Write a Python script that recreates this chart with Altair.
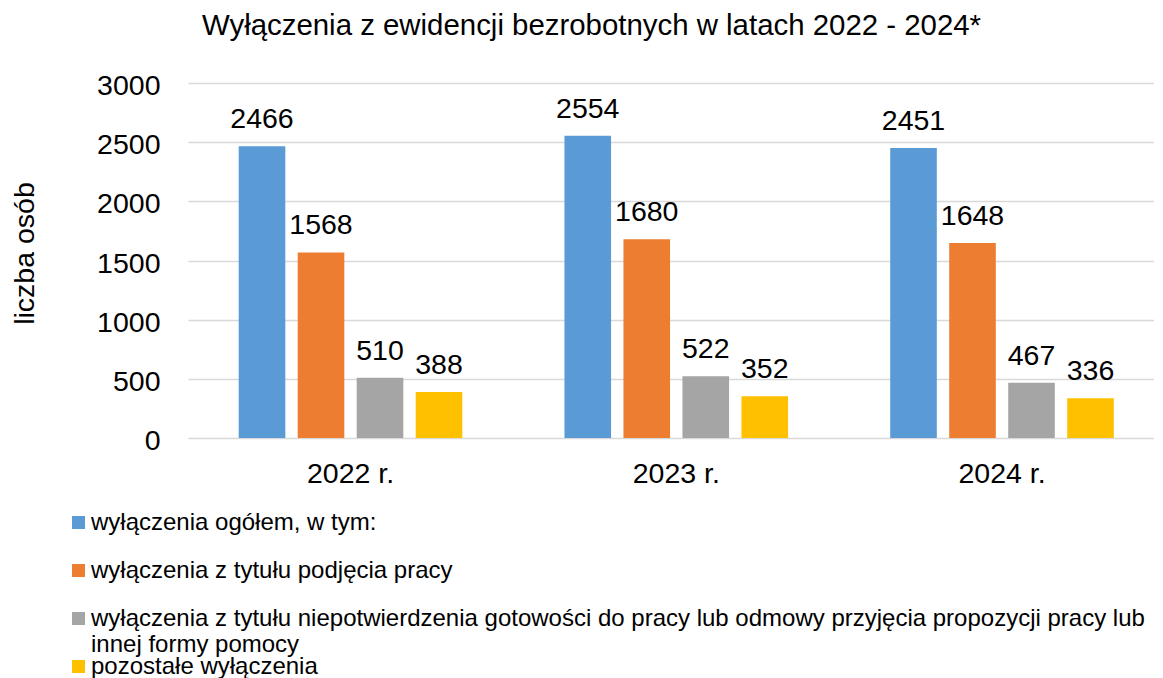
import altair as alt
import pandas as pd

years = ["2022 r.", "2023 r.", "2024 r."]
series = [
    "wyłączenia ogółem, w tym:",
    "wyłączenia z tytułu podjęcia pracy",
    "wyłączenia z tytułu niepotwierdzenia gotowości do pracy lub odmowy przyjęcia propozycji pracy lub innej formy pomocy",
    "pozostałe wyłączenia",
]
legend_labels = [
    "wyłączenia ogółem, w tym:",
    "wyłączenia z tytułu podjęcia pracy",
    "wyłączenia z tytułu niepotwierdzenia gotowości do pracy lub odmowy przyjęcia propozycji pracy lub\ninnej formy pomocy",
    "pozostałe wyłączenia",
]
ogolem = [2466, 2554, 2451]
podjecie_pracy = [1568, 1680, 1648]
niepotwierdzenie = [510, 522, 467]
pozostale = [388, 352, 336]
colors = ["#5B9BD5", "#ED7D31", "#A5A5A5", "#FFC000"]
y_ticks = [0, 500, 1000, 1500, 2000, 2500, 3000]

rows = []
for i, yr in enumerate(years):
    for s, vals in zip(series, [ogolem, podjecie_pracy, niepotwierdzenie, pozostale]):
        rows.append({"rok": yr, "seria": s, "liczba": vals[i]})
df = pd.DataFrame(rows)
leg = pd.DataFrame({"seria": series, "etykieta": legend_labels})

FONT = "Liberation Sans"
FS = 28.5

color = alt.Color("seria:N", scale=alt.Scale(domain=series, range=colors), legend=None)

x = alt.X(
    "rok:N", sort=years,
    scale=alt.Scale(paddingInner=0.2755, paddingOuter=0.1205, align=0.567),
    axis=alt.Axis(title=None, labelAngle=0, labelFontSize=FS, labelPadding=21,
                  ticks=False, domain=False, labelColor="#000000", labelBaseline="top",
                  labelFont=FONT),
)
xoff = alt.XOffset("seria:N", sort=series, scale=alt.Scale(paddingInner=0.21, paddingOuter=0.105))
y = alt.Y(
    "liczba:Q",
    scale=alt.Scale(domain=[0, 3000], nice=False),
    axis=alt.Axis(values=y_ticks, format="d", title="liczba osób", titleFontSize=FS,
                  titleFontWeight="normal", titleColor="#000000", titleFont=FONT,
                  titleAngle=-90, titleX=-155, titleY=170,
                  titleAlign="center", titleBaseline="alphabetic",
                  labelFontSize=FS, labelPadding=28, labelColor="#000000", labelFont=FONT,
                  labelOffset=2.5, grid=True, gridColor="#D9D9D9", gridWidth=1.3,
                  domain=False, ticks=False),
)

base = alt.Chart(df)
bars = base.mark_bar().encode(x=x, xOffset=xoff, y=y, color=color)
labels = base.mark_text(baseline="alphabetic", dy=-18, fontSize=FS, font=FONT, color="#000000").encode(
    x=x, xOffset=xoff, y=y, text=alt.Text("liczba:Q")
)
main = alt.layer(bars, labels)

ly = alt.Y("seria:N", sort=series,
           scale=alt.Scale(type="point", domain=series, range=[439.5, 583.5], padding=0),
           axis=None)
lbase = alt.Chart(leg)
squares = lbase.mark_square(size=169, opacity=1, filled=True).encode(
    x=alt.value(-109.5), y=ly, color=color
)
ltext = lbase.mark_text(align="left", baseline="top", dy=-12, fontSize=24, font=FONT,
                        lineBreak="\n", lineHeight=26, color="#000000").encode(
    x=alt.value(-97), y=ly, text="etykieta:N"
)
legend = alt.layer(squares, ltext)

chart = alt.layer(main, legend).resolve_scale(y="independent").properties(
    width=966, height=355,
    autosize=alt.AutoSizeParams(type="none"),
    padding={"left": 180, "top": 75, "right": 0, "bottom": 242},
    title=alt.TitleParams(
        "Wyłączenia z ewidencji bezrobotnych w latach 2022 - 2024*",
        anchor="middle", frame="group", dx=-79.5, fontSize=29.4, font=FONT,
        fontWeight="normal", color="#000000", offset=30,
    ),
).configure_view(stroke=None)

chart.save("out.html", embed_options={"renderer": "svg", "actions": False})
